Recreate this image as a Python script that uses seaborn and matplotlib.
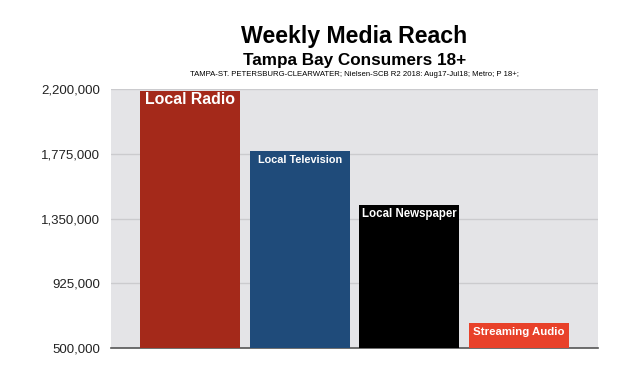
import matplotlib
matplotlib.use("Agg")
import matplotlib.pyplot as plt
import seaborn as sns
import pandas as pd

# Data
categories = ["Local Radio", "Local Television", "Local Newspaper", "Streaming Audio"]
reach = [2190000, 1793000, 1439000, 664000]
bar_colors = ["#a4291a", "#1f4b7a", "#000000", "#e8412a"]
label_sizes = [11.4, 7.8, 8.3, 8.2]
y_ticks = [500000, 925000, 1350000, 1775000, 2200000]

title = "Weekly Media Reach"
subtitle = "Tampa Bay Consumers 18+"
source = "TAMPA-ST. PETERSBURG-CLEARWATER; Nielsen-SCB R2 2018: Aug17-Jul18; Metro; P 18+;"

sns.set_theme(style="white")
plt.rcParams["font.family"] = ["Liberation Sans", "DejaVu Sans"]

df = pd.DataFrame({"media": categories, "reach": reach})

fig = plt.figure(figsize=(6.3, 3.7), dpi=100)
ax = fig.add_axes([111 / 630, 1 - 348 / 370, 487 / 630, 259 / 370])
ax.set_facecolor("#e4e4e7")

sns.barplot(data=df, x="media", y="reach", hue="media", palette=bar_colors,
            saturation=1, width=0.91, dodge=False, legend=False, ax=ax,
            linewidth=0, edgecolor="none", zorder=3)

ax.set_ylim(y_ticks[0], y_ticks[-1])
ax.set_xlim(-0.72, len(categories) - 1 + 0.72)
ax.set_yticks(y_ticks)
ax.set_yticklabels([f"{v:,}" for v in y_ticks], fontsize=9.5, color="#222222")
ax.tick_params(axis="y", length=0, pad=8)
ax.set_xticks([])
ax.set_xlabel("")
ax.set_ylabel("")

for v in y_ticks[1:]:
    ax.axhline(v, color="#cbcbce", lw=1, zorder=1)

for side in ["left", "right", "top"]:
    ax.spines[side].set_visible(False)
ax.spines["bottom"].set_color("#555555")
ax.spines["bottom"].set_linewidth(1.2)

span = y_ticks[-1] - y_ticks[0]
for i, (name, val, fs) in enumerate(zip(categories, reach, label_sizes)):
    ax.text(i, val - span * 0.036, name, ha="center", va="center",
            color="white", fontsize=fs, fontweight="bold", zorder=4)

cx = (111 + 598) / 2 / 630
fig.text(cx, 1 - 37 / 370, title, ha="center", va="center",
         fontsize=16.7, fontweight="bold", color="black")
fig.text(cx, 1 - 60 / 370, subtitle, ha="center", va="center",
         fontsize=12.3, fontweight="bold", color="black")
fig.text(cx, 1 - 75 / 370, source, ha="center", va="center",
         fontsize=5.6, color="black")

fig.savefig("out.png", dpi=100)
